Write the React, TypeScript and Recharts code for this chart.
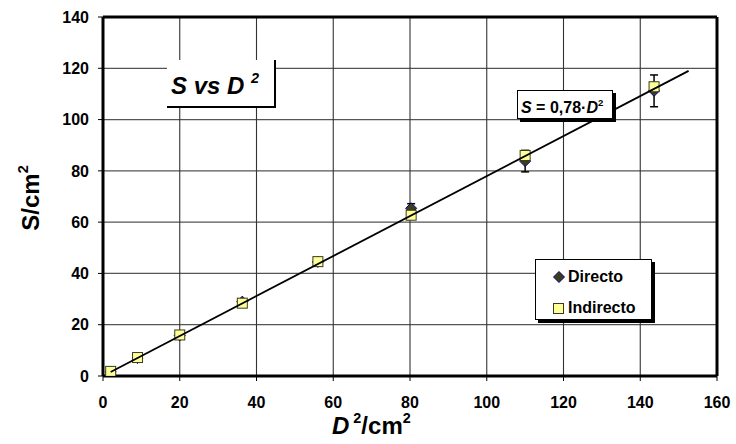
import React from "react";
import {
  ComposedChart,
  XAxis,
  YAxis,
  Scatter,
  ReferenceLine,
} from "recharts";

// D^2 (cm^2) values
const d2Values = [2, 9, 20, 36.3, 56, 80.3, 110, 143.6];
// Direct measurement of S (cm^2)
const directoValues = [1.6, 7, 15.8, 29, 44.5, 65.4, 83.8, 111.2];
// Direct measurement error (cm^2); 0 = too small to be seen
const directoErrors = [0, 0, 0, 0, 0, 1.8, 4.2, 6.2];
// Indirect measurement of S (cm^2)
const indirectoValues = [1.8, 7.2, 16, 28.4, 44.6, 62.7, 86, 112.8];
// Fitted line S = 0.78 * D^2 endpoints
const trendX = [2, 152.6];
const trendY = [1.56, 119];

const xTicks = [0, 20, 40, 60, 80, 100, 120, 140, 160];
const yTicks = [0, 20, 40, 60, 80, 100, 120, 140];

const directoData = d2Values.map((x, i) => ({ x, y: directoValues[i] }));
const indirectoData = d2Values.map((x, i) => ({ x, y: indirectoValues[i] }));
const errorBarsData = d2Values
  .map((x, i) => ({ x, y: directoValues[i], e: directoErrors[i] }))
  .filter((d) => d.e > 0)
  .map((d) => [
    { x: d.x, y: d.y - d.e },
    { x: d.x, y: d.y + d.e },
  ]);
const trendData = trendX.map((x, i) => ({ x, y: trendY[i] }));

const FONT = '"Liberation Sans", Arial, sans-serif';

const Diamond = (props: any) => {
  const { cx, cy } = props;
  if (cx == null || cy == null) return <g />;
  const r = 5.5;
  return (
    <polygon
      points={`${cx},${cy - r} ${cx + r},${cy} ${cx},${cy + r} ${cx - r},${cy}`}
      fill="#3d3d1a"
      stroke="#000080"
      strokeWidth={1}
    />
  );
};

const Square = (props: any) => {
  const { cx, cy } = props;
  if (cx == null || cy == null) return <g />;
  return (
    <rect
      x={cx - 5}
      y={cy - 5}
      width={10}
      height={10}
      fill="#ffff99"
      stroke="#3a3a20"
      strokeWidth={1}
    />
  );
};

const Cap = (props: any) => {
  const { cx, cy } = props;
  if (cx == null || cy == null) return <g />;
  return <line x1={cx - 4} x2={cx + 4} y1={cy} y2={cy} stroke="#000" strokeWidth={1.5} />;
};

const Empty = () => <g />;

const Sup = ({ children }: { children: React.ReactNode }) => (
  <span style={{ fontSize: "0.6em", position: "relative", top: "-0.75em" }}>
    {children}
  </span>
);

export default function App() {
  return (
    <div
      style={{
        position: "fixed",
        left: 0,
        top: 0,
        width: 736,
        height: 444,
        background: "#fff",
        fontFamily: FONT,
      }}
    >
      <ComposedChart
        width={736}
        height={444}
        margin={{ top: 17, right: 19, left: 43, bottom: 38 }}
      >
        <XAxis
          type="number"
          dataKey="x"
          domain={[0, 160]}
          ticks={xTicks}
          allowDataOverflow
          axisLine={{ stroke: "#000", strokeWidth: 3 }}
          tickLine={{ stroke: "#000", strokeWidth: 1 }}
          tickSize={5}
          tickMargin={16}
          height={30}
          tick={{ fill: "#000", fontSize: 16, fontWeight: "bold", fontFamily: FONT }}
        />
        <YAxis
          type="number"
          dataKey="y"
          domain={[0, 140]}
          ticks={yTicks}
          allowDataOverflow
          axisLine={{ stroke: "#000", strokeWidth: 3 }}
          tickLine={{ stroke: "#000", strokeWidth: 1 }}
          tickSize={5}
          tickMargin={9}
          width={60}
          tick={{ fill: "#000", fontSize: 16, fontWeight: "bold", fontFamily: FONT }}
        />
        {yTicks
          .filter((t) => t > 0 && t < 140)
          .map((t) => (
            <ReferenceLine key={"gy" + t} y={t} stroke="#555" strokeWidth={1.2} />
          ))}
        {xTicks
          .filter((t) => t > 0 && t < 160)
          .map((t) => (
            <ReferenceLine key={"gx" + t} x={t} stroke="#333" strokeWidth={1.1} />
          ))}
        <ReferenceLine y={140} stroke="#000" strokeWidth={3} />
        <ReferenceLine x={160} stroke="#000" strokeWidth={3} />
        {errorBarsData.map((seg, i) => (
          <Scatter
            key={"eb" + i}
            data={seg}
            dataKey="y"
            line={{ stroke: "#000", strokeWidth: 1.5 }}
            shape={Cap}
            isAnimationActive={false}
            legendType="none"
          />
        ))}
        <Scatter
          name="Directo"
          data={directoData}
          dataKey="y"
          shape={Diamond}
          isAnimationActive={false}
        />
        <Scatter
          name="Indirecto"
          data={indirectoData}
          dataKey="y"
          shape={Square}
          isAnimationActive={false}
        />
        <Scatter
          name="Ajuste"
          data={trendData}
          dataKey="y"
          line={{ stroke: "#000", strokeWidth: 1.8 }}
          shape={Empty}
          isAnimationActive={false}
          legendType="none"
        />
      </ComposedChart>

      {/* Y axis title */}
      <div
        style={{
          position: "absolute",
          left: 31,
          top: 198,
          transform: "translate(-50%, -50%) rotate(-90deg)",
          whiteSpace: "nowrap",
          fontSize: 24,
          fontWeight: "bold",
          lineHeight: 1,
        }}
      >
        S/cm<Sup>2</Sup>
      </div>

      {/* X axis title */}
      <div
        style={{
          position: "absolute",
          left: 332,
          top: 414,
          whiteSpace: "nowrap",
          fontSize: 24,
          fontWeight: "bold",
          lineHeight: 1,
        }}
      >
        <i>D</i>
        <Sup>&nbsp;2</Sup>/cm<Sup>2</Sup>
      </div>

      {/* Title box */}
      <div
        style={{
          position: "absolute",
          left: 167,
          top: 60,
          width: 107,
          height: 46,
          background: "#fff",
          borderRight: "2px solid #000",
          borderBottom: "2px solid #000",
        }}
      >
        <div
          style={{
            position: "absolute",
            left: 4,
            top: 14,
            whiteSpace: "nowrap",
            fontSize: 24,
            fontWeight: "bold",
            fontStyle: "italic",
            lineHeight: 1,
          }}
        >
          S vs D <Sup>2</Sup>
        </div>
      </div>

      {/* Equation box */}
      <div
        style={{
          position: "absolute",
          left: 517,
          top: 90,
          width: 94,
          height: 27,
          background: "#fff",
          border: "1px solid #000",
          boxShadow: "3px 3px 0 #000",
        }}
      >
        <div
          style={{
            position: "absolute",
            left: 3,
            top: 9,
            whiteSpace: "nowrap",
            fontSize: 16,
            fontWeight: "bold",
            lineHeight: 1,
          }}
        >
          <i>S</i> = 0,78·<i>D</i>
          <Sup>2</Sup>
        </div>
      </div>

      {/* Legend */}
      <div
        style={{
          position: "absolute",
          left: 535,
          top: 259,
          width: 115,
          height: 59,
          background: "#fff",
          border: "1px solid #000",
          boxShadow: "3px 3px 0 #000",
        }}
      >
        <svg
          style={{ position: "absolute", left: 16, top: 10 }}
          width={14}
          height={14}
        >
          <polygon
            points="7,1.5 12.5,7 7,12.5 1.5,7"
            fill="#3d3d1a"
            stroke="#000080"
            strokeWidth={1}
          />
        </svg>
        <div
          style={{
            position: "absolute",
            left: 32,
            top: 9,
            fontSize: 16,
            fontWeight: "bold",
            lineHeight: 1,
            whiteSpace: "nowrap",
          }}
        >
          Directo
        </div>
        <svg
          style={{ position: "absolute", left: 16, top: 42 }}
          width={14}
          height={14}
        >
          <rect
            x={1.5}
            y={1.5}
            width={10}
            height={10}
            fill="#ffff99"
            stroke="#3a3a20"
            strokeWidth={1}
          />
        </svg>
        <div
          style={{
            position: "absolute",
            left: 32,
            top: 40,
            fontSize: 16,
            fontWeight: "bold",
            lineHeight: 1,
            whiteSpace: "nowrap",
          }}
        >
          Indirecto
        </div>
      </div>
    </div>
  );
}
